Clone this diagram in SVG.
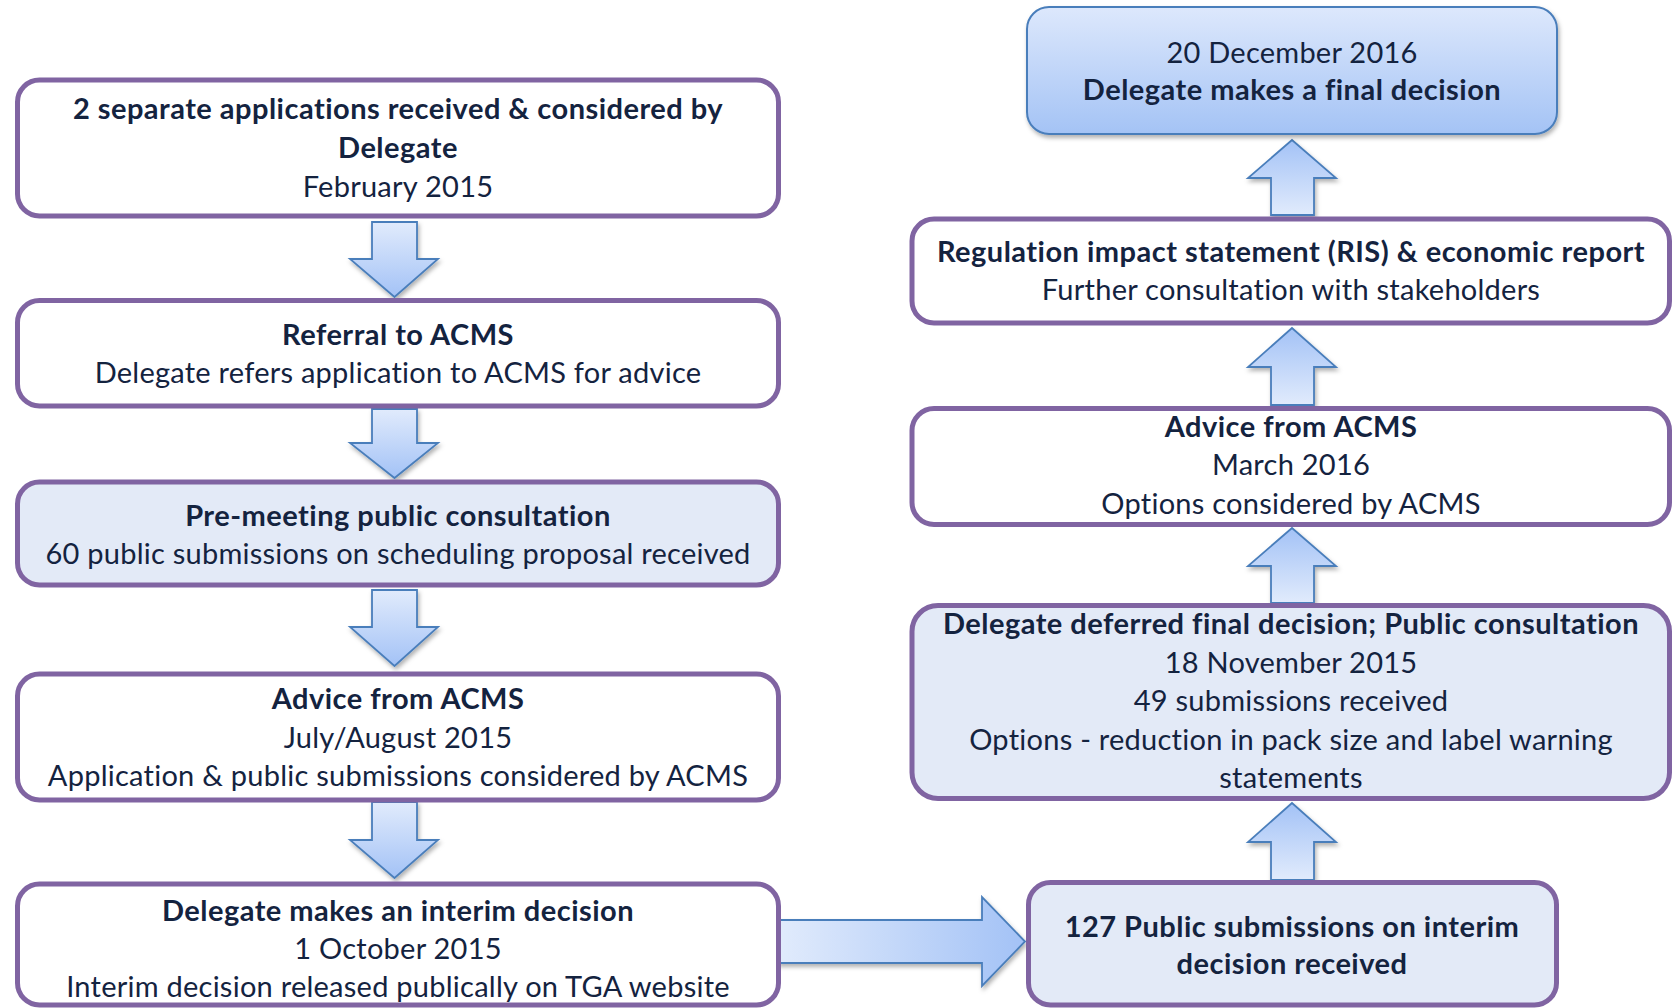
<svg xmlns="http://www.w3.org/2000/svg" width="1672" height="1008" viewBox="0 0 1672 1008">
  <defs>
    <linearGradient id="gDown" x1="0" y1="0" x2="0" y2="1">
      <stop offset="0" stop-color="#E1EBFC"/>
      <stop offset="1" stop-color="#A3C2F6"/>
    </linearGradient>
    <linearGradient id="gUp" x1="0" y1="1" x2="0" y2="0">
      <stop offset="0" stop-color="#E1EBFC"/>
      <stop offset="1" stop-color="#A3C2F6"/>
    </linearGradient>
    <linearGradient id="gRight" x1="0" y1="0" x2="1" y2="0">
      <stop offset="0" stop-color="#E1EBFC"/>
      <stop offset="1" stop-color="#A3C2F6"/>
    </linearGradient>
    <linearGradient id="gTop" x1="0" y1="0" x2="0" y2="1">
      <stop offset="0" stop-color="#DDE8FC"/>
      <stop offset="1" stop-color="#A4C3F5"/>
    </linearGradient>
    <filter id="shadow" x="-10%" y="-10%" width="130%" height="140%">
      <feDropShadow dx="1.5" dy="3" stdDeviation="2" flood-color="#000" flood-opacity="0.3"/>
    </filter>
  </defs>
  <style>
    .box { fill: #FFFFFF; stroke: #8064A2; stroke-width: 5; }
    .boxb { fill: #E3EAF7; stroke: #8064A2; stroke-width: 5; }
    .topbox { fill: url(#gTop); stroke: #4A7EBB; stroke-width: 2; filter: url(#shadow); }
    .arr { stroke: #4A7EBB; stroke-width: 1.8; stroke-linejoin: miter; filter: url(#shadow); }
    .down { fill: url(#gDown); }
    .up { fill: url(#gUp); }
    .right { fill: url(#gRight); }
    text { font-family: Lato, "Open Sans", "Liberation Sans", sans-serif; font-size: 29px; letter-spacing: 0.25px; fill: #14233F; text-anchor: middle; }
    .b { font-weight: bold; letter-spacing: 0.48px; }
  </style>
  <rect width="1672" height="1008" fill="#FFFFFF"/>

  <g id="connectors">
    <polygon class="arr down" points="372,222 417,222 417,259 438,259 394.5,297 350,259 372,259"/>
    <polygon class="arr down" points="372,409 417,409 417,443 438,443 394.5,478 350,443 372,443"/>
    <polygon class="arr down" points="372,590 417,590 417,627 438,627 394.5,666 350,627 372,627"/>
    <polygon class="arr down" points="372,802 417,802 417,840 438,840 394.5,878 350,840 372,840"/>
    <polygon class="arr right" points="778,920 982,920 982,897 1025,941.5 982,986 982,963 778,963"/>
    <polygon class="arr up" points="1271,880 1314,880 1314,842 1336,842 1292,803 1248,842 1271,842"/>
    <polygon class="arr up" points="1271,603 1314,603 1314,566 1336,566 1292,528 1248,566 1271,566"/>
    <polygon class="arr up" points="1271,405 1314,405 1314,367 1336,367 1292,328 1248,367 1271,367"/>
    <polygon class="arr up" points="1271,215 1314,215 1314,178 1336,178 1292,140 1248,178 1271,178"/>
  </g>

  <g id="n1">
    <rect class="box" x="17.5" y="80" width="761" height="136" rx="22"/>
    <text class="b" x="398" y="119">2 separate applications received &amp; considered by</text>
    <text class="b" x="398" y="158">Delegate</text>
    <text x="398" y="197">February 2015</text>
  </g>
  <g id="n2">
    <rect class="box" x="17.5" y="300.5" width="761" height="105.5" rx="22"/>
    <text class="b" x="398" y="345">Referral to ACMS</text>
    <text x="398" y="383">Delegate refers application to ACMS for advice</text>
  </g>
  <g id="n3">
    <rect class="boxb" x="17.5" y="482" width="761" height="103" rx="22"/>
    <text class="b" x="398" y="526">Pre-meeting public consultation</text>
    <text x="398" y="564">60 public submissions on scheduling proposal received</text>
  </g>
  <g id="n4">
    <rect class="box" x="17.5" y="674" width="761" height="126" rx="22"/>
    <text class="b" x="398" y="709">Advice from ACMS</text>
    <text x="398" y="747.5">July/August 2015</text>
    <text x="398" y="786">Application &amp; public submissions considered by ACMS</text>
  </g>
  <g id="n5">
    <rect class="box" x="17.5" y="884" width="761" height="121" rx="22"/>
    <text class="b" x="398" y="921">Delegate makes an interim decision</text>
    <text x="398" y="959">1 October 2015</text>
    <text x="398" y="997">Interim decision released publically on TGA website</text>
  </g>
  <g id="n6">
    <rect class="boxb" x="1028.5" y="882.5" width="528" height="122.5" rx="22"/>
    <text class="b" x="1292" y="937">127 Public submissions on interim</text>
    <text class="b" x="1292" y="974">decision received</text>
  </g>
  <g id="n7">
    <rect class="boxb" x="912" y="605.5" width="757.5" height="193" rx="26"/>
    <text class="b" x="1291" y="634">Delegate deferred final decision; Public consultation</text>
    <text x="1291" y="673">18 November 2015</text>
    <text x="1291" y="711">49 submissions received</text>
    <text x="1291" y="750">Options - reduction in pack size and label warning</text>
    <text x="1291" y="788">statements</text>
  </g>
  <g id="n8">
    <rect class="box" x="912" y="408.5" width="757.5" height="116" rx="22"/>
    <text class="b" x="1291" y="437">Advice from ACMS</text>
    <text x="1291" y="475">March 2016</text>
    <text x="1291" y="514">Options considered by ACMS</text>
  </g>
  <g id="n9">
    <rect class="box" x="912" y="219" width="757.5" height="104" rx="22"/>
    <text class="b" x="1291" y="262">Regulation impact statement (RIS) &amp; economic report</text>
    <text x="1291" y="300">Further consultation with stakeholders</text>
  </g>
  <g id="n10">
    <rect class="topbox" x="1027" y="7" width="530" height="127" rx="22"/>
    <text x="1292" y="63">20 December 2016</text>
    <text class="b" x="1292" y="100">Delegate makes a final decision</text>
  </g>
</svg>
